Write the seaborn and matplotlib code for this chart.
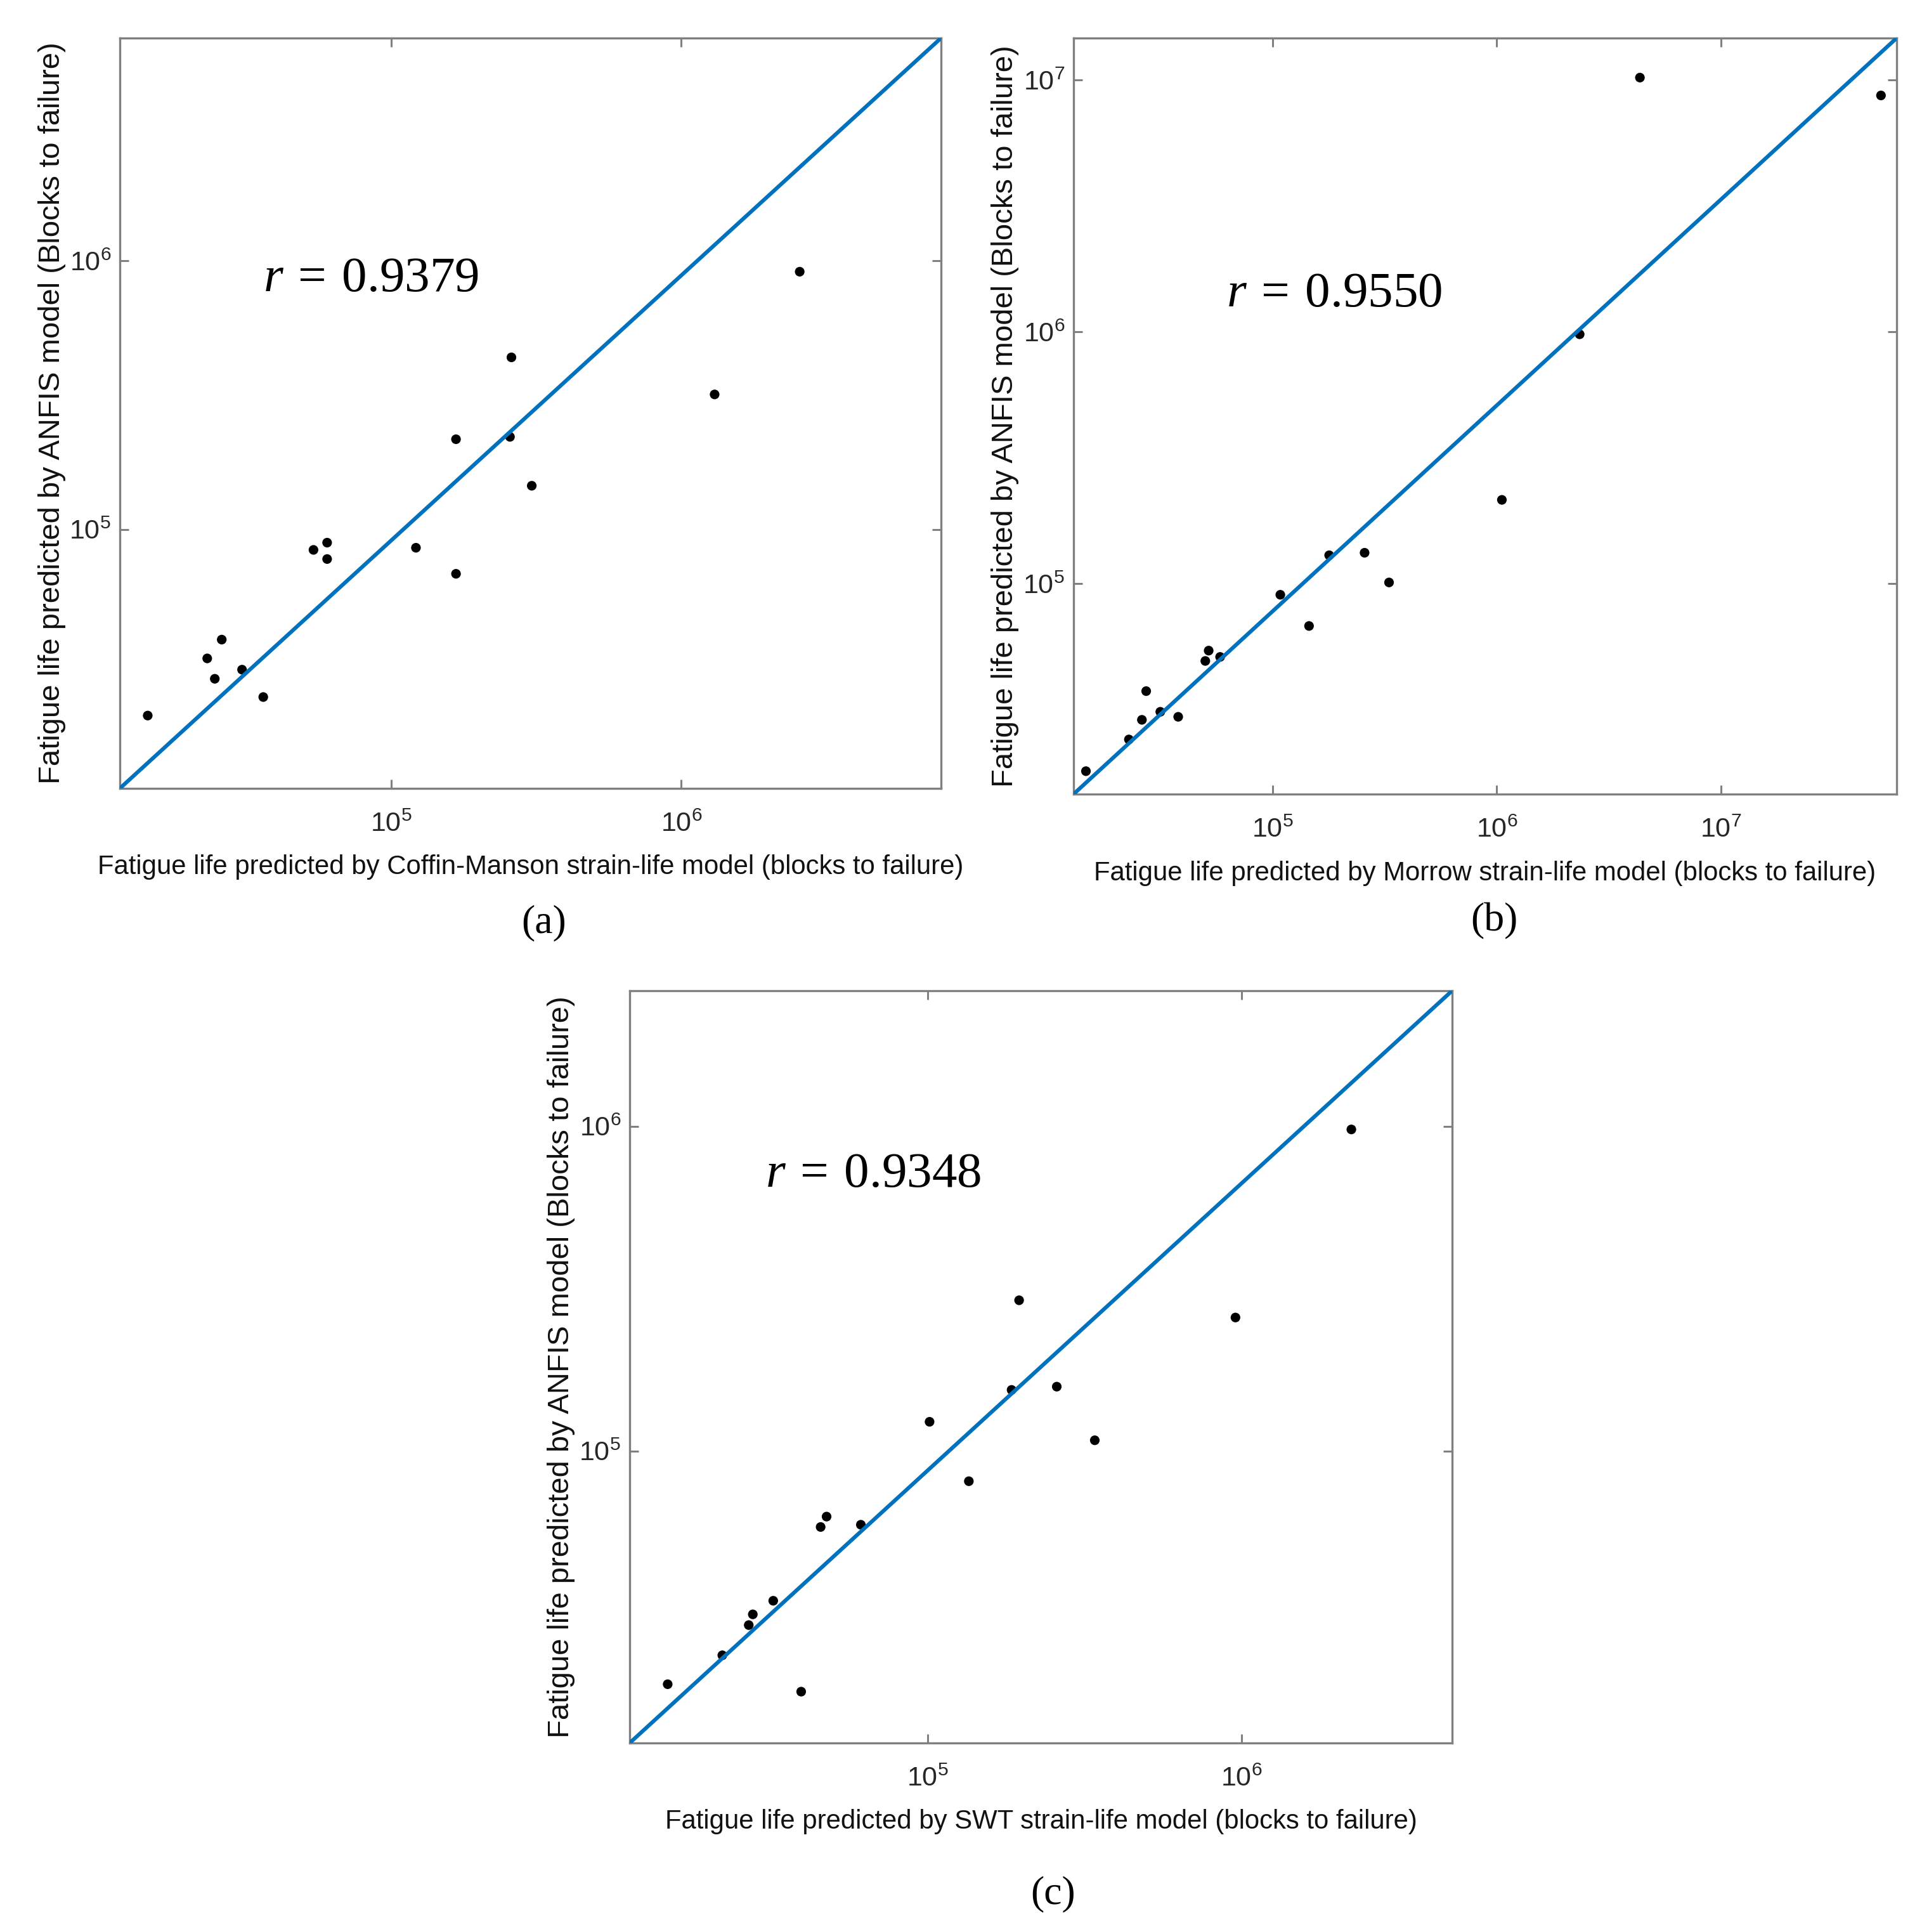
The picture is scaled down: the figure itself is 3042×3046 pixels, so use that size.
"""
ANFIS vs strain-life model fatigue life comparison (three log-log panels)
"""
import matplotlib
matplotlib.use("Agg")
import matplotlib.pyplot as plt
import matplotlib.ticker as mticker
import numpy as np
import seaborn as sns

# seaborn style first, fonts afterwards (set_style resets font.family)
sns.set_style("ticks")
plt.rcParams["font.family"] = ["Liberation Sans", "DejaVu Sans"]
plt.rcParams["mathtext.fontset"] = "custom"
plt.rcParams["mathtext.rm"] = "Liberation Serif"
plt.rcParams["mathtext.it"] = "Liberation Serif:italic"

# ---- data (blocks to failure) ----
# (a) Coffin-Manson vs ANFIS
cm_x = [14520, 23280, 26120, 24720, 30690, 36310, 54080, 60260, 60260,
        121900, 167500, 167500, 257000, 260000, 305500, 1303000, 2559000]
cm_y = [20280, 33110, 38900, 27800, 30060, 23770, 83950, 89330, 77620,
        85510, 68390, 216800, 221300, 437500, 145500, 318400, 912000]
cm_xlim = [11640, 7852000]
cm_ylim = [10860, 6761000]
cm_r = "0.9379"

# (b) Morrow vs ANFIS
mo_x = [14660, 22800, 26060, 27230, 31480, 37840, 50000, 51760, 58210,
        108100, 145200, 178600, 257000, 330400, 1054000, 2344000, 4355000, 51880000]
mo_y = [17950, 23990, 28710, 37330, 30900, 29510, 49200, 54080, 51050,
        90160, 67760, 129400, 132400, 100900, 214800, 977200, 10230000, 8690000]
mo_xlim = [12910, 60950000]
mo_ylim = [14550, 14690000]
mo_r = "0.9550"

# (c) SWT vs ANFIS
swt_x = [14890, 22230, 26980, 27800, 32290, 39630, 45710, 47750, 61380,
         101600, 135500, 185400, 195900, 258200, 341200, 957200, 2239000]
swt_y = [19140, 23500, 29110, 31410, 34590, 18160, 58350, 62810, 59290,
         123000, 80720, 154200, 291100, 157800, 107900, 257600, 977200]
swt_xlim = [11270, 4688000]
swt_ylim = [12620, 2612000]
swt_r = "0.9348"

panels = [
    ("(a)", "Fatigue life predicted by Coffin-Manson strain-life model (blocks to failure)",
     cm_x, cm_y, cm_xlim, cm_ylim, cm_r),
    ("(b)", "Fatigue life predicted by Morrow strain-life model (blocks to failure)",
     mo_x, mo_y, mo_xlim, mo_ylim, mo_r),
    ("(c)", "Fatigue life predicted by SWT strain-life model (blocks to failure)",
     swt_x, swt_y, swt_xlim, swt_ylim, swt_r),
]
YLABEL = "Fatigue life predicted by ANFIS model (Blocks to failure)"

# layout (figure fractions) — measured from the 3042x3046 reference
W, H = 3042, 3046
boxes = [(189, 60, 1484, 1243), (1693, 60, 2991, 1252), (993, 1562, 2290, 2748)]
r_pos = [(0.1745, 0.663), (0.186, 0.645), (0.165, 0.7395)]
tag_pos = [(858, 1455), (2356, 1452), (1661, 2986)]

LINE_BLUE = "#0072BD"
SPINE = "#808080"

fig = plt.figure(figsize=(W / 200, H / 200), dpi=200)

for (tag, xlabel, xs, ys, xlim, ylim, rval), box, rp, tp in zip(panels, boxes, r_pos, tag_pos):
    l, t, r, b = box
    ax = fig.add_axes([l / W, 1 - b / H, (r - l) / W, (b - t) / H])
    ax.set(xscale="log", yscale="log")

    sns.scatterplot(x=xs, y=ys, ax=ax, color="black", s=30, edgecolor="none",
                    linewidth=0, zorder=2, legend=False)
    # corner-to-corner reference line
    ax.plot(xlim, ylim, color=LINE_BLUE, lw=2.2, zorder=3, solid_capstyle="butt")

    ax.set_xlim(xlim)
    ax.set_ylim(ylim)
    for axis in (ax.xaxis, ax.yaxis):
        axis.set_major_locator(mticker.LogLocator(base=10))
        axis.set_minor_locator(mticker.NullLocator())
        axis.set_major_formatter(mticker.LogFormatterSciNotation())

    for sp in ax.spines.values():
        sp.set_color(SPINE)
        sp.set_linewidth(1.2)
    ax.tick_params(which="both", direction="in", length=5, width=1.1, color=SPINE,
                   top=True, right=True, labelsize=15.5, labelcolor="#262626")
    ax.tick_params(axis="x", pad=13)
    ax.tick_params(axis="y", pad=5)

    ax.set_xlabel(xlabel, fontsize=15.1, color="#111111")
    ax.set_ylabel(YLABEL, fontsize=17, color="#111111")
    ax.xaxis.set_label_coords(0.5, -0.088)
    ax.yaxis.set_label_coords(-0.066, 0.5)

    ax.text(rp[0], rp[1], rf"$r\:=\:{rval}$", transform=ax.transAxes,
            fontsize=28.5, va="baseline", ha="left", color="black")

    fig.text(tp[0] / W, 1 - tp[1] / H, tag, family="Liberation Serif",
             fontsize=23, ha="center", va="center", color="black")

fig.savefig("out.png", dpi=200)
plt.close(fig)
